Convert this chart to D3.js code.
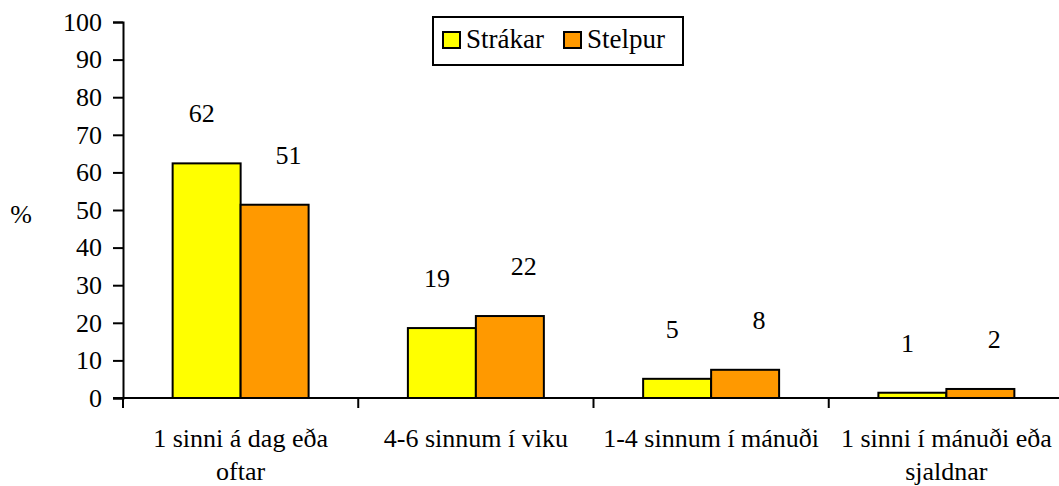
<!DOCTYPE html>
<html>
<head>
<meta charset="utf-8">
<script src="https://cdn.jsdelivr.net/npm/d3@7"></script>
<style>
  html, body { margin: 0; padding: 0; background: #fff; }
  svg { display: block; }
</style>
</head>
<body>
<svg id="chart" width="1059" height="486"></svg>
<script>
const categories = ["1 sinni á dag eða\noftar", "4-6 sinnum í viku", "1-4 sinnum í mánuði", "1 sinni í mánuði eða\nsjaldnar"];
const seriesNames = ["Strákar", "Stelpur"];
const strakar = [62.4, 18.6, 5.1, 1.4];
const stelpur = [51.4, 21.8, 7.5, 2.4];
const labelsStrakar = ["62", "19", "5", "1"];
const labelsStelpur = ["51", "22", "8", "2"];
const yTicks = [0, 10, 20, 30, 40, 50, 60, 70, 80, 90, 100];
const colors = ["#FFFF00", "#FF9900"];

(function () {
const FONT = "Liberation Serif";
const svg = d3.select("#chart");
const FS = 26;
const pLeft = 123, pRight = 1064, pTop = 22, pBottom = 398;

const x = d3.scaleBand().domain(categories).range([pLeft, pRight]).paddingInner(0.422).paddingOuter(0.211);
const xs = d3.scaleBand().domain(seriesNames).range([0, x.bandwidth()]);
const y = d3.scaleLinear().domain([0, 100]).range([pBottom, pTop]);

const series = [
  { name: seriesNames[0], values: strakar, labels: labelsStrakar, color: colors[0], dx: -5 },
  { name: seriesNames[1], values: stelpur, labels: labelsStelpur, color: colors[1], dx: 14 }
];

function txt(sel, size) {
  return sel.style("font-family", FONT).style("font-size", size + "px").attr("fill", "#000");
}

series.forEach(s => {
  svg.append("g").selectAll("rect").data(categories).join("rect")
    .attr("x", c => x(c) + xs(s.name))
    .attr("y", (c, i) => y(s.values[i]))
    .attr("width", xs.bandwidth())
    .attr("height", (c, i) => y(0) - y(s.values[i]))
    .attr("fill", s.color)
    .attr("stroke", "#000")
    .attr("stroke-width", 2);
});

series.forEach(s => {
  txt(svg.append("g").selectAll("text").data(categories).join("text")
    .attr("x", c => x(c) + xs(s.name) + xs.bandwidth() / 2 + s.dx)
    .attr("y", (c, i) => y(s.values[i]) - 41)
    .attr("text-anchor", "middle")
    .text((c, i) => s.labels[i]), FS);
});

const yAxis = svg.append("g").attr("transform", `translate(${pLeft},0)`)
  .call(d3.axisLeft(y).tickValues(yTicks).tickSize(10).tickPadding(11));
yAxis.select(".domain").attr("stroke", "#000").attr("stroke-width", 2);
yAxis.selectAll(".tick line").attr("stroke", "#000").attr("stroke-width", 2);
txt(yAxis.selectAll(".tick text"), FS);

svg.append("line").attr("x1", pLeft - 10).attr("x2", 1059).attr("y1", pBottom).attr("y2", pBottom)
  .attr("stroke", "#000").attr("stroke-width", 2);
const bounds = d3.range(categories.length + 1).map(i => pLeft + i * x.step());
svg.append("g").selectAll("line").data(bounds).join("line")
  .attr("x1", d => d).attr("x2", d => d).attr("y1", pBottom).attr("y2", pBottom + 10)
  .attr("stroke", "#000").attr("stroke-width", 2);

const catG = txt(svg.append("g").selectAll("text").data(categories).join("text")
  .attr("x", c => x(c) + x.bandwidth() / 2)
  .attr("y", 447)
  .attr("text-anchor", "middle"), FS);
catG.each(function(c) {
  const lines = c.split("\n");
  d3.select(this).selectAll("tspan").data(lines).join("tspan")
    .attr("x", x(c) + x.bandwidth() / 2)
    .attr("dy", (d, i) => i === 0 ? 0 : 33)
    .text(d => d);
});

txt(svg.append("text").attr("x", 21).attr("y", 223).attr("text-anchor", "middle").text("%"), FS);

const lg = svg.append("g");
lg.append("rect").attr("x", 433).attr("y", 17).attr("width", 250).attr("height", 48)
  .attr("fill", "#fff").attr("stroke", "#000").attr("stroke-width", 2);
const legX = [443, 564];
series.forEach((s, i) => {
  lg.append("rect").attr("x", legX[i]).attr("y", 32).attr("width", 17).attr("height", 16)
    .attr("fill", s.color).attr("stroke", "#000").attr("stroke-width", 2);
  txt(lg.append("text").attr("x", legX[i] + 23).attr("y", 48).text(s.name), 27);
});
})();
</script>
</body>
</html>
